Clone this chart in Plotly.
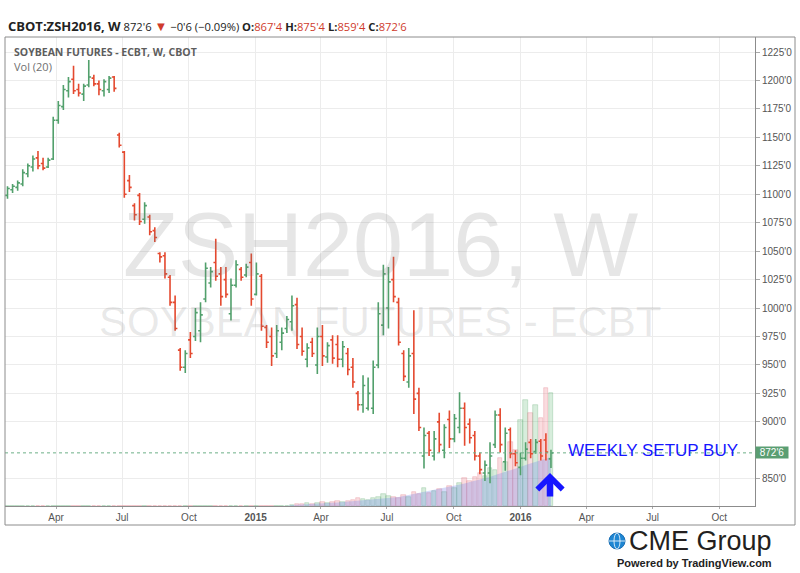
import pandas as pd
import plotly.graph_objects as go

# ---------------- data (weekly bars, ZSH2016) ----------------
first_bar = "2014-01-24"

opens = [1099, 1104, 1106, 1109, 1118, 1124, 1132, 1127, 1124, 1131,
         1165, 1177, 1191, 1201, 1192, 1188, 1196, 1202, 1197, 1191,
         1192, 1203, 1152, 1137, 1112, 1090, 1099, 1078, 1080, 1068,
         1048, 1046, 1027, 1005, 963, 948, 972, 975, 980, 1008,
         1022, 1040, 1030, 1025, 995, 1020, 1034, 1029, 1040, 1012,
         1028, 983, 975, 960, 970, 982, 988, 1003, 975, 955,
         970, 950, 975, 957, 972, 968, 955, 960, 948, 925,
         915, 912, 912, 950, 985, 1000, 1025, 1005, 960, 935,
         960, 925, 870, 890, 870, 900, 875, 902, 885, 895,
         912, 898, 888, 870, 855, 855, 880, 906, 865, 893,
         872, 860, 868, 882, 874, 883, 884, 867.5]
highs = [1107, 1109, 1112, 1122, 1127, 1134, 1138, 1132, 1132, 1168,
         1182, 1196, 1203, 1213, 1197, 1197, 1218, 1205, 1200, 1201,
         1204, 1204, 1154, 1138, 1117, 1092, 1101, 1093, 1082, 1071,
         1049, 1049, 1029, 1011, 965, 963, 979, 1000, 1005, 1040,
         1036, 1061, 1036, 1036, 1026, 1042, 1036, 1039, 1048, 1040,
         1030, 985, 983, 985, 983, 993, 1011, 1009, 983, 969,
         974, 983, 985, 970, 976, 976, 971, 965, 956, 927,
         941, 939, 954, 1005, 1038, 1036, 1045, 1009, 963, 965,
         998, 930, 895, 892, 892, 908, 898, 910, 907, 926,
         917, 903, 892, 873, 866, 882, 910, 912, 895, 895,
         875, 873, 882, 885, 885, 885, 890, 875.5]
lows = [1096, 1101, 1103, 1107, 1115, 1120, 1122, 1121, 1123, 1130,
        1162, 1174, 1185, 1188, 1186, 1182, 1194, 1195, 1187, 1186,
        1189, 1190, 1141, 1097, 1102, 1077, 1073, 1074, 1064, 1058,
        1040, 1026, 1002, 980, 945, 943, 956, 971, 970, 1005,
        1018, 1024, 1002, 1009, 989, 1018, 1024, 1027, 1002, 1011,
        980, 965, 949, 956, 963, 978, 980, 964, 958, 948,
        957, 942, 949, 952, 951, 948, 948, 941, 930, 910,
        908, 910, 907, 947, 976, 982, 1005, 967, 936, 930,
        907, 892, 859, 870, 866, 873, 868, 877, 882, 890,
        879, 881, 866, 854, 848, 846, 877, 873, 857, 868,
        861, 853, 866, 868, 872, 866, 866, 859.5]
closes = [1105, 1107, 1110, 1119, 1125, 1131, 1125, 1123, 1130, 1165,
          1178, 1192, 1199, 1191, 1189, 1195, 1203, 1197, 1192, 1199,
          1202, 1193, 1143, 1100, 1106, 1082, 1076, 1090, 1067, 1062,
          1045, 1030, 1005, 982, 948, 960, 960, 996, 994, 1035,
          1032, 1028, 1010, 1012, 1020, 1038, 1027, 1036, 1008, 1030,
          984, 970, 958, 980, 978, 990, 1002, 968, 962, 965,
          960, 975, 958, 967, 956, 955, 966, 946, 935, 915,
          932, 925, 948, 995, 1030, 1023, 1010, 970, 940, 958,
          920, 895, 888, 875, 885, 880, 895, 885, 903, 912,
          895, 886, 870, 858, 862, 870, 906, 880, 890, 872,
          864, 868, 876, 872, 882, 870, 873.5, 872.75]

volumes = [0] * 56 + [
    1, 2, 2, 3, 2, 3, 4, 3, 4, 5,
    4, 5, 6, 8, 7, 6, 8, 9, 12, 10,
    9, 8, 11, 9, 14, 12, 18, 13, 15, 17,
    14, 20, 18, 23, 28, 25, 29, 33, 30, 38,
    36, 48, 44, 64, 56, 86, 106, 93, 101, 88,
    118, 113]
volume_ma = [0] * 56 + [
    1, 1.2, 1.5, 1.8, 2, 2.3, 2.6, 3, 3.3, 3.6,
    4, 4.3, 4.6, 5, 5.4, 5.9, 6.4, 7, 7.6, 8,
    8.5, 9, 10, 11, 12, 13, 14, 15, 16, 17,
    18, 19, 20, 21, 22.5, 24, 25, 26.5, 28, 29,
    31, 32.5, 34, 36, 37.5, 39, 41, 42.5, 44, 46,
    47.5, 49]

x_tick_dates = ["2014-04-01", "2014-07-01", "2014-10-01", "2015-01-01",
                "2015-04-01", "2015-07-01", "2015-10-01", "2016-01-01",
                "2016-04-01", "2016-07-01", "2016-10-01"]
x_tick_text = ["Apr", "Jul", "Oct", "<b>2015</b>", "Apr", "Jul", "Oct",
               "<b>2016</b>", "Apr", "Jul", "Oct"]
y_tick_vals = [850, 900, 925, 950, 975, 1000, 1025, 1050, 1075,
               1100, 1125, 1150, 1175, 1200, 1225]

# ---------------- helpers ----------------
def cbot(p):
    whole = int(p)
    frac = int(round((p - whole) * 8))
    return f"{whole}'{frac}"

start = pd.Timestamp(first_bar)
dates = [start + pd.Timedelta(weeks=i) for i in range(len(opens))]

GREEN = "#52a06c"
RED = "#e4492f"
vol_fill = ["rgba(110,190,130,0.28)" if c >= o else "rgba(236,130,140,0.28)"
            for o, c in zip(opens, closes)]
vol_line = ["rgba(90,170,110,0.45)" if c >= o else "rgba(225,110,120,0.45)"
            for o, c in zip(opens, closes)]

fig = go.Figure()

fig.add_trace(go.Bar(
    x=dates, y=volumes, yaxis="y", xaxis="x",
    marker=dict(color=vol_fill, line=dict(color=vol_line, width=0.6)),
    width=7 * 86400000 * 0.9, hoverinfo="skip"))

fig.add_trace(go.Scatter(
    x=dates, y=volume_ma, yaxis="y", xaxis="x", mode="lines",
    line=dict(color="rgba(110,125,235,0.0)", width=0),
    fill="tozeroy", fillcolor="rgba(105,125,235,0.28)", hoverinfo="skip"))

fig.add_trace(go.Ohlc(
    x=dates, open=opens, high=highs, low=lows, close=closes,
    xaxis="x", yaxis="y2",
    increasing=dict(line=dict(color=GREEN, width=1.6)),
    decreasing=dict(line=dict(color=RED, width=1.6)),
    tickwidth=0.45, hoverinfo="skip"))

# last price line
last_close = closes[-1]
prev_close = closes[-2]
fig.add_shape(type="line", xref="paper", yref="y2", x0=0, x1=1,
              y0=last_close, y1=last_close,
              line=dict(color="#6cb087", width=1, dash="dot"))

# ---------------- layout ----------------
PLOT_L, PLOT_R, PLOT_T, PLOT_B = 5, 755, 37, 506
W = PLOT_R - PLOT_L
H = PLOT_B - PLOT_T
px_per_day = 0.7256
first_px = 7.5
x0 = start - pd.Timedelta(days=(first_px - PLOT_L) / px_per_day)
x1 = start + pd.Timedelta(days=(PLOT_R - first_px) / px_per_day)

px_per_price = 1.138
y_top = 1225 + (52 - PLOT_T) / px_per_price
y_bot = 1225 - (PLOT_B - 52) / px_per_price

def px(xp):
    return (xp - PLOT_L) / W

def py(yp):
    return (PLOT_B - yp) / H

label_font = dict(family="Liberation Sans, Arial", size=10, color="#555555")

fig.update_layout(
    width=800, height=573,
    margin=dict(l=PLOT_L, r=800 - PLOT_R, t=PLOT_T, b=573 - PLOT_B),
    paper_bgcolor="white", plot_bgcolor="white", showlegend=False,
    bargap=0,
    xaxis=dict(type="date", range=[x0, x1], tickvals=x_tick_dates,
               ticktext=x_tick_text, showgrid=True, gridcolor="#ececec",
               showline=True, linecolor="#8c8c8c", ticks="outside",
               ticklen=2, tickcolor="#aaaaaa", tickfont=label_font,
               zeroline=False, rangeslider=dict(visible=False)),
    yaxis=dict(range=[0, H], visible=False, showgrid=False, zeroline=False),
    yaxis2=dict(overlaying="y", side="right", range=[y_bot, y_top],
                tickvals=y_tick_vals,
                ticktext=[f"{v}'0" for v in y_tick_vals],
                showgrid=True, gridcolor="#ececec", showline=True,
                linecolor="#8c8c8c", ticks="outside", ticklen=4,
                tickcolor="#aaaaaa", tickfont=label_font, zeroline=False),
)

# outer frame
fig.add_shape(type="rect", xref="paper", yref="paper",
              x0=0, x1=px(795), y0=py(525), y1=1,
              line=dict(color="#8c8c8c", width=1), fillcolor="rgba(0,0,0,0)")

red_txt = "#cf3b2c"
chg = last_close - prev_close
pct = chg / prev_close * 100
header = (f"<b><span style='font-size:13px'>CBOT:ZSH2016, W</span></b> "
          f"{cbot(last_close)} "
          f"<span style='color:{red_txt};font-size:13px'>▼</span> "
          f"−{cbot(abs(chg))} (−{abs(pct):.2f}%) "
          f"<b>O:</b><span style='color:{red_txt}'>{cbot(opens[-1])}</span> "
          f"<b>H:</b><span style='color:{red_txt}'>{cbot(highs[-1])}</span> "
          f"<b>L:</b><span style='color:{red_txt}'>{cbot(lows[-1])}</span> "
          f"<b>C:</b><span style='color:{red_txt}'>{cbot(last_close)}</span>")

anns = [
    dict(text=header, x=px(6), y=py(26), xanchor="left", yanchor="middle",
         font=dict(family="Open Sans", size=11.2, color="#222222")),
    dict(text="<b>SOYBEAN FUTURES - ECBT, W, CBOT</b>", x=px(12), y=py(52),
         xanchor="left", yanchor="middle",
         font=dict(family="Open Sans", size=10.5, color="#5d5d5d")),
    dict(text="Vol (20)", x=px(12), y=py(67), xanchor="left", yanchor="middle",
         font=dict(family="Open Sans", size=11, color="#707070")),
    dict(text="ZSH2016, W", x=0.5, y=py(245), xanchor="center",
         yanchor="middle",
         font=dict(family="Liberation Sans, Arial", size=90,
                   color="rgba(120,120,120,0.19)")),
    dict(text="SOYBEAN FUTURES - ECBT", x=0.5, y=py(321), xanchor="center",
         yanchor="middle",
         font=dict(family="Liberation Sans, Arial", size=42,
                   color="rgba(120,120,120,0.16)")),
    dict(text="WEEKLY SETUP BUY", x=px(566), y=py(450), xanchor="left",
         yanchor="middle",
         font=dict(family="Liberation Sans, Arial", size=17, color="#1616ff")),
    dict(text="", x=px(550), y=py(473), ax=0, ay=25, showarrow=True,
         arrowhead=4, arrowsize=0.75, arrowwidth=6.5, arrowcolor="#1616ff"),
    dict(text=cbot(last_close), x=1, xshift=17, y=last_close, yref="y2",
         xanchor="center", yanchor="middle", showarrow=False,
         bgcolor="#5a9e72", width=32, height=11, borderpad=0,
         font=dict(family="Liberation Sans, Arial", size=10, color="white")),
    dict(text="CME Group", x=px(627), y=py(541), xanchor="left",
         yanchor="middle",
         font=dict(family="Liberation Sans, Arial", size=27, color="#231f20")),
    dict(text="<b>Powered by TradingView.com</b>", x=px(694), y=py(563),
         xanchor="center", yanchor="middle",
         font=dict(family="Liberation Sans, Arial", size=11, color="#222222")),
]
for a in anns:
    a.setdefault("xref", "paper")
    a.setdefault("yref", "paper")
    a.setdefault("showarrow", False)
    fig.add_annotation(**a)

# CME globe
fig.add_shape(type="circle", xref="paper", yref="paper",
              x0=px(609), x1=px(625), y0=py(549), y1=py(533),
              fillcolor="#1f86d2", line=dict(color="#1a6fb5", width=1))
fig.add_shape(type="circle", xref="paper", yref="paper",
              x0=px(614), x1=px(620), y0=py(549), y1=py(533),
              fillcolor="rgba(0,0,0,0)", line=dict(color="white", width=0.8))
fig.add_shape(type="line", xref="paper", yref="paper",
              x0=px(609), x1=px(625), y0=py(541), y1=py(541),
              line=dict(color="white", width=0.8))

fig.write_html("out.html",
               config={"displayModeBar": False},
               post_script="document.body.style.margin='0';"
                           "document.body.style.overflow='hidden';")
